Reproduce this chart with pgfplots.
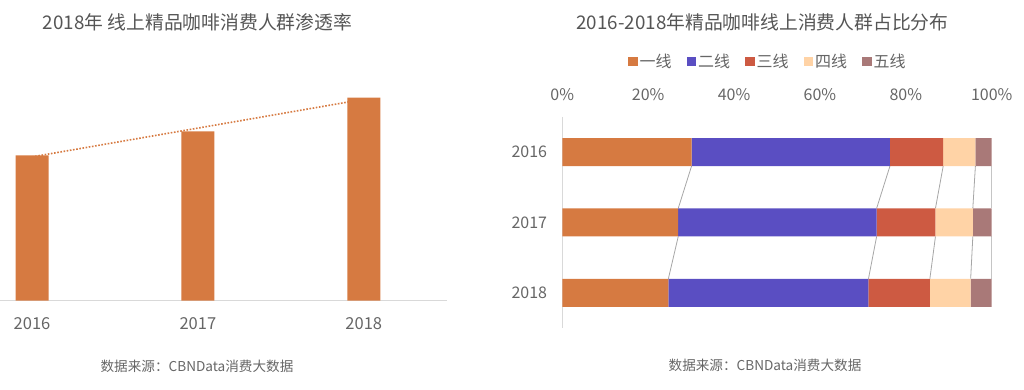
\documentclass[border=0pt]{standalone}
\usepackage{fontspec}
\setmainfont{Noto Sans CJK SC}
\usepackage{pgfplots}
\pgfplotsset{compat=1.18}
\definecolor{cOne}{HTML}{D67A41}
\definecolor{cTwo}{HTML}{5A4EC2}
\definecolor{cThree}{HTML}{CD5A42}
\definecolor{cFour}{HTML}{FFD3A6}
\definecolor{cFive}{HTML}{A97978}
\definecolor{txt}{HTML}{666666}
\definecolor{ttl}{HTML}{555555}
\definecolor{axl}{HTML}{D9D9D9}
\definecolor{conn}{HTML}{A6A6A6}
\begin{document}
\begin{tikzpicture}[x=1pt,y=1pt]
\path[use as bounding box] (0,0) rectangle (1024,389);
% titles and sources
\node[text=ttl,font=\fontsize{18.8}{20}\selectfont] at (197.5,367) {2018年 线上精品咖啡消费人群渗透率};
\node[text=ttl,font=\fontsize{18.8}{20}\selectfont] at (762.5,367) {2016-2018年精品咖啡线上消费人群占比分布};
\node[text=txt,font=\fontsize{13.6}{15}\selectfont] at (197,22.3) {数据来源：CBNData消费大数据};
\node[text=txt,font=\fontsize{13.6}{15}\selectfont] at (765,24) {数据来源：CBNData消费大数据};

% left chart
\begin{axis}[
  at={(0pt,88.3pt)}, anchor=south west,
  scale only axis, width=446.7pt, height=250pt,
  xmin=-0.193, xmax=2.5, ymin=0, ymax=25,
  axis x line*=bottom, axis y line=none,
  x axis line style={draw=axl, line width=1pt, -},
  xtick={0,1,2}, xticklabels={2016,2017,2018},
  major tick length=0pt,
  xticklabel style={anchor=center, yshift=-23pt, text=txt, font=\fontsize{16.5}{17}\selectfont},
  clip=false,
]
\addplot[cOne, line width=1.6pt, dash pattern=on 1.6pt off 1.6pt] coordinates {(0,14.38) (2,20.14)};
\addplot[ybar, bar width=33pt, fill=cOne, draw=none, bar shift=0pt] coordinates {(0,14.54) (1,16.94) (2,20.30)};
\end{axis}

% right chart: connectors
\begin{axis}[
  at={(562.3pt,61pt)}, anchor=south west,
  scale only axis, width=429.4pt, height=211.2pt,
  xmin=0, xmax=100, ymin=-0.5, ymax=2.5, y dir=reverse,
  hide axis, unbounded coords=jump,
]
\addplot[conn, line width=0.8pt] coordinates {(30.1,0.2) (27.0,0.8) (nan,nan) (27.0,1.2) (24.7,1.8)};
\addplot[conn, line width=0.8pt] coordinates {(76.3,0.2) (73.2,0.8) (nan,nan) (73.2,1.2) (71.3,1.8)};
\addplot[conn, line width=0.8pt] coordinates {(88.7,0.2) (86.9,0.8) (nan,nan) (86.9,1.2) (85.6,1.8)};
\addplot[conn, line width=0.8pt] coordinates {(96.2,0.2) (95.6,0.8) (nan,nan) (95.6,1.2) (95.1,1.8)};
\addplot[conn, line width=0.8pt] coordinates {(100,0.2) (100,0.8) (nan,nan) (100,1.2) (100,1.8)};
\end{axis}

% right chart: bars
\begin{axis}[
  at={(562.3pt,61pt)}, anchor=south west,
  scale only axis, width=429.4pt, height=211.2pt,
  xbar stacked, bar width=28pt,
  xmin=0, xmax=100, ymin=-0.5, ymax=2.5, y dir=reverse,
  axis x line*=top, axis y line*=left,
  x axis line style={draw=none},
  y axis line style={draw=axl, line width=1pt, -},
  xtick={0,20,40,60,80,100}, xticklabels={0\%,20\%,40\%,60\%,80\%,100\%},
  ytick={0,1,2}, yticklabels={2016,2017,2018},
  major tick length=0pt,
  xticklabel style={anchor=center, yshift=22pt, text=txt, font=\fontsize{16}{17}\selectfont},
  yticklabel style={anchor=east, inner sep=0pt, xshift=-15pt, text=txt, font=\fontsize{16}{17}\selectfont},
  legend columns=5,
  legend style={draw=none, at={(0.479,1.2595)}, anchor=center, text=txt,
    font=\fontsize{16}{17}\selectfont,
    nodes={inner sep=2pt},
    /tikz/every even column/.append style={column sep=13pt}},
  legend image code/.code={\fill[#1] (0pt,-4.5pt) rectangle (9.5pt,5pt);},
  clip=false,
]
\addplot[fill=cOne, draw=none] coordinates {(30.1,0) (27.0,1) (24.7,2)};
\addplot[fill=cTwo, draw=none] coordinates {(46.2,0) (46.2,1) (46.6,2)};
\addplot[fill=cThree, draw=none] coordinates {(12.4,0) (13.7,1) (14.3,2)};
\addplot[fill=cFour, draw=none] coordinates {(7.5,0) (8.7,1) (9.5,2)};
\addplot[fill=cFive, draw=none] coordinates {(3.8,0) (4.4,1) (4.9,2)};
\legend{一线,二线,三线,四线,五线}
\end{axis}
\end{tikzpicture}
\end{document}
